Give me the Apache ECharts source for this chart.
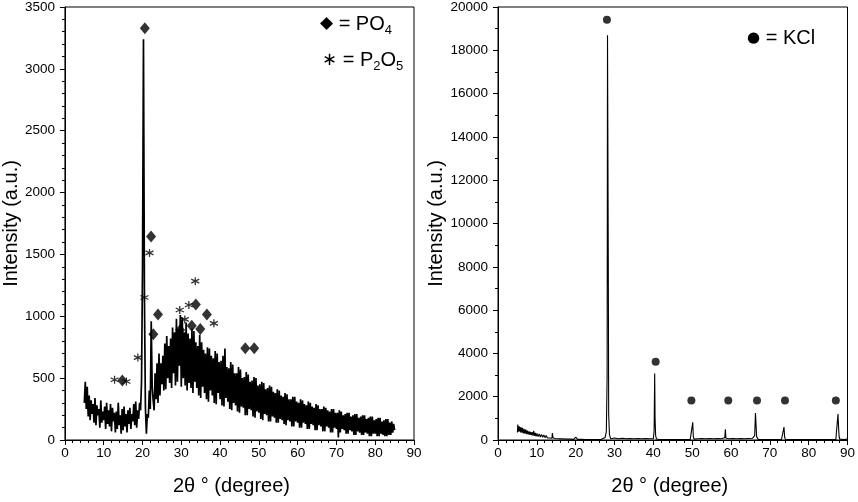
<!DOCTYPE html>
<html>
<head>
<meta charset="utf-8">
<script src="https://cdn.jsdelivr.net/npm/echarts@6/dist/echarts.min.js"></script>
<style>
html,body{margin:0;padding:0;background:#fff;}
#chart{width:858px;height:502px;}
</style>
</head>
<body>
<div id="chart"></div>
<script>
// ---- Left pattern: 2θ from 5 to 85 in 0.25° steps ----
const leftStart = 5;
const leftStep = 0.25;
const leftIntensity = [
  300, 470, 250, 430,
  190, 360, 160, 320,
  210, 290, 140, 340,
  120, 280, 200, 250,
  100, 320, 140, 230,
  160, 270, 90, 300,
  130, 240, 110, 290,
  70, 260, 150, 220,
  60, 230, 90, 300,
  120, 200, 50, 250,
  80, 270, 110, 210,
  60, 240, 130, 260,
  90, 210, 150, 290,
  120, 310, 100, 240,
  170, 300, 240, 470,
  1380, 3240, 1150, 260,
  50, 210, 180, 400,
  250, 960, 420, 320,
  240, 540, 330, 620,
  300, 700, 360, 620,
  450, 680, 400, 780,
  410, 840, 500, 760,
  460, 820, 420, 910,
  540, 870, 440, 980,
  470, 900, 600, 1010,
  430, 990, 500, 870,
  440, 950, 400, 860,
  460, 820, 420, 900,
  380, 880, 470, 790,
  420, 760, 360, 850,
  340, 790, 430, 730,
  380, 700, 330, 750,
  310, 740, 400, 680,
  360, 660, 300, 720,
  290, 700, 380, 630,
  330, 640, 280, 680,
  270, 740, 340, 590,
  310, 580, 250, 630,
  240, 610, 300, 540,
  280, 540, 230, 590,
  220, 570, 270, 500,
  260, 510, 200, 550,
  200, 530, 250, 470,
  240, 480, 190, 510,
  180, 500, 230, 440,
  220, 450, 170, 470,
  160, 460, 210, 410,
  200, 420, 150, 440,
  150, 430, 190, 390,
  180, 380, 140, 410,
  140, 400, 170, 360,
  160, 350, 130, 380,
  120, 370, 160, 330,
  150, 330, 110, 350,
  110, 350, 150, 310,
  140, 300, 100, 330,
  100, 320, 140, 290,
  130, 280, 90, 310,
  90, 300, 130, 270,
  120, 260, 80, 290,
  80, 280, 120, 250,
  110, 250, 70, 270,
  70, 260, 110, 240,
  100, 230, 60, 250,
  60, 250, 100, 220,
  90, 220, 20, 240,
  60, 230, 90, 200,
  80, 210, 50, 220,
  50, 220, 80, 190,
  70, 200, 40, 210,
  40, 210, 70, 180,
  60, 190, 40, 200,
  40, 200, 60, 170,
  50, 180, 30, 190,
  30, 190, 50, 160,
  50, 170, 30, 180,
  30, 180, 50, 150,
  40, 160, 30, 170,
  30, 170, 40, 140,
  40, 150, 60, 130,
  80
];

// ---- Left annotation markers [2θ, height] ----
const po4Marks = [[14.8,481],[20.6,3328],[22.2,1644],[22.8,854],[24.0,1015],[29.7,889],[32.7,924],[33.75,1096],[34.9,897],[36.6,1015],[46.5,741],[48.8,741]];
const p2o5Marks = [[12.8,487],[15.85,473],[18.8,666],[20.5,1152],[21.8,1512],[29.6,1051],[30.9,975],[31.95,1091],[33.6,1284],[38.4,943]];

// ---- Right pattern [2θ, intensity] ----
const rightPattern = [
  [5.0,350],[5.1,720],[5.2,400],[5.3,650],[5.4,380],[5.5,620],[5.6,420],[5.7,580],[5.8,350],[5.9,600],
  [6.0,380],[6.1,540],[6.2,330],[6.3,560],[6.4,350],[6.5,500],[6.6,300],[6.7,520],[6.8,320],[6.9,470],
  [7.0,290],[7.2,480],[7.4,270],[7.6,430],[7.8,260],[8.0,400],[8.2,240],[8.4,380],[8.6,220],[8.8,360],
  [9.0,200],[9.2,420],[9.4,190],[9.6,330],[9.8,170],[10.0,300],[10.3,160],[10.6,280],[10.9,140],[11.2,260],
  [11.5,130],[11.8,230],[12.1,110],[12.4,210],[12.7,100],[13.0,190],[13.3,90],[13.6,170],[13.9,80],[14.0,320],
  [14.2,90],[14.5,160],[14.8,70],[15.1,150],[15.4,60],[15.7,140],[16.0,50],[16.4,130],[16.8,50],[17.2,120],
  [17.6,40],[18.0,110],[18.5,40],[19.0,100],[19.5,30],[20.0,130],[20.5,30],[21.0,90],[21.5,30],[22.0,80],
  [22.5,20],[23.0,80],[23.5,20],[24.0,70],[24.5,20],[25.0,70],[25.5,20],[26.0,70],[26.5,20],[27.0,80],
  [27.6,120],[27.9,400],[28.1,2900],[28.2,18700],[28.3,13500],[28.4,8400],[28.5,1200],[28.7,250],[29.0,60],[29.5,20],
  [30.0,90],[30.5,20],[31.0,60],[31.5,20],[32.0,80],[32.5,20],[33.0,60],[33.5,20],[34.0,70],[34.5,20],
  [35.0,60],[35.5,20],[36.0,70],[36.5,20],[37.0,60],[37.5,20],[38.0,70],[38.5,20],[39.0,60],[39.5,30],
  [40.0,60],[40.2,400],[40.35,3070],[40.45,1000],[40.6,200],[40.8,50],[41.5,20],[42.0,70],[42.5,20],[43.0,60],
  [43.5,20],[44.0,70],[44.5,20],[45.0,60],[45.5,20],[46.0,70],[46.5,20],[47.0,60],[47.5,20],[48.0,70],
  [48.5,20],[49.0,60],[49.5,30],[50.0,100],[50.15,815],[50.3,150],[50.5,40],[51.0,20],[51.5,60],[52.0,20],
  [52.5,70],[53.0,20],[53.5,60],[54.0,20],[54.5,70],[55.0,20],[55.5,60],[56.0,20],[56.5,70],[57.0,20],
  [57.5,60],[58.0,20],[58.4,100],[58.55,500],[58.7,80],[59.0,20],[59.5,60],[60.0,20],[60.5,70],[61.0,20],
  [61.5,60],[62.0,20],[62.5,70],[63.0,20],[63.5,60],[64.0,20],[64.5,70],[65.0,20],[65.5,80],[66.1,200],
  [66.3,1245],[66.45,700],[66.6,150],[67.0,30],[67.5,70],[68.0,20],[68.5,60],[69.0,20],[69.5,70],[70.0,20],
  [70.5,60],[71.0,20],[71.5,70],[72.0,20],[72.5,60],[73.0,20],[73.5,100],[73.65,600],[73.8,150],[74.0,30],
  [74.5,60],[75.0,20],[75.5,70],[76.0,20],[76.5,60],[77.0,20],[77.5,70],[78.0,20],[78.5,60],[79.0,20],
  [79.5,70],[80.0,20],[80.5,60],[81.0,20],[81.5,70],[82.0,20],[82.5,60],[83.0,20],[83.5,70],[84.0,20],
  [84.5,60],[85.0,20],[85.5,70],[86.0,20],[86.5,60],[87.0,30],[87.4,100],[87.55,1200],[87.7,600],[87.85,150],
  [88.0,40],[88.5,60],[89.0,20],[89.5,60],[90.0,40]
];

const kclMarks = [[28.05,19415],[40.6,3610],[49.8,1828],[59.3,1828],[66.7,1828],[73.9,1828],[87.0,1828]];

// ---- build series data ----
const leftData = leftIntensity.map((v, i) => [leftStart + i * leftStep, v]);

const FONT = "'Liberation Sans', Arial, sans-serif";
const asteriskPath = 'path://M5,0 L5,10 M0.67,2.5 L9.33,7.5 M0.67,7.5 L9.33,2.5';

function xAxisCfg(gridIndex, padRight) {
  return {
    type: 'value', gridIndex, min: 0, max: 90, interval: 10,
    name: '2θ ° (degree)', nameLocation: 'middle', nameGap: 36,
    nameTextStyle: { fontFamily: FONT, fontSize: 20, color: '#000', padding: [0, padRight, 0, 0] },
    axisLine: { show: true, onZero: false, lineStyle: { color: '#000', width: 1 } },
    axisTick: { show: true, length: 5, lineStyle: { color: '#000' } },
    minorTick: { show: true, splitNumber: 5, length: 3, lineStyle: { color: '#000' } },
    axisLabel: { fontFamily: FONT, fontSize: 13.5, color: '#000', margin: 6, formatter: v => String(v) },
    splitLine: { show: false }
  };
}
function yAxisCfg(gridIndex, max, interval, minorSplit, gap) {
  return {
    type: 'value', gridIndex, min: 0, max, interval,
    name: 'Intensity (a.u.)', nameLocation: 'middle', nameGap: gap, nameRotate: 90,
    nameTextStyle: { fontFamily: FONT, fontSize: 20, color: '#000' },
    axisLine: { show: true, onZero: false, lineStyle: { color: '#000', width: 1 } },
    axisTick: { show: true, length: 5, lineStyle: { color: '#000' } },
    minorTick: { show: true, splitNumber: minorSplit, length: 3, lineStyle: { color: '#000' } },
    axisLabel: { fontFamily: FONT, fontSize: 13.5, color: '#000', margin: 10, formatter: v => String(v) },
    splitLine: { show: false }
  };
}

const chart = echarts.init(document.getElementById('chart'), null, { renderer: 'canvas' });
chart.setOption({
  animation: false,
  backgroundColor: '#fff',
  grid: [
    { left: 62, top: 5, width: 352, height: 435, show: true, borderColor: '#000', borderWidth: 1 },
    { left: 498, top: 5, width: 352, height: 435, show: true, borderColor: '#000', borderWidth: 1 }
  ],
  xAxis: [xAxisCfg(0, 16), xAxisCfg(1, 6)],
  yAxis: [yAxisCfg(0, 3500, 500, 5, 42), yAxisCfg(1, 20000, 2000, 2, 50)],
  series: [
    { type: 'line', xAxisIndex: 0, yAxisIndex: 0, data: leftData, symbol: 'none',
      lineStyle: { color: '#000', width: 1.7 } },
    { type: 'scatter', xAxisIndex: 0, yAxisIndex: 0, data: po4Marks, symbol: 'diamond', symbolSize: [10, 12],
      itemStyle: { color: '#000' } },
    { type: 'scatter', xAxisIndex: 0, yAxisIndex: 0, data: p2o5Marks, symbol: asteriskPath, symbolSize: 8,
      itemStyle: { color: 'rgba(0,0,0,0)', borderColor: '#000', borderWidth: 1.3 } },
    { type: 'line', xAxisIndex: 1, yAxisIndex: 1, data: rightPattern, symbol: 'none',
      lineStyle: { color: '#000', width: 1.1 } },
    { type: 'scatter', xAxisIndex: 1, yAxisIndex: 1, data: kclMarks, symbol: 'circle', symbolSize: 8,
      itemStyle: { color: '#000' } }
  ],
  graphic: [
    { type: 'text', left: 320, top: 14, style: {
        text: '{m|◆} = PO{s|4}', fontFamily: FONT, fontSize: 20, fill: '#000',
        rich: { m: { fontFamily: 'DejaVu Sans', fontSize: 17 }, s: { fontSize: 13, padding: [12, 0, 0, 0] } } } },
    { type: 'text', left: 322, top: 50, style: {
        text: '{m|∗} = P{s|2}O{s|5}', fontFamily: FONT, fontSize: 20, fill: '#000',
        rich: { m: { fontFamily: 'DejaVu Sans', fontSize: 18 }, s: { fontSize: 13, padding: [12, 0, 0, 0] } } } },
    { type: 'text', left: 747, top: 28, style: {
        text: '{m|●} = KCl', fontFamily: FONT, fontSize: 20, fill: '#000',
        rich: { m: { fontFamily: 'DejaVu Sans', fontSize: 15 } } } }
  ]
});
</script>
</body>
</html>
